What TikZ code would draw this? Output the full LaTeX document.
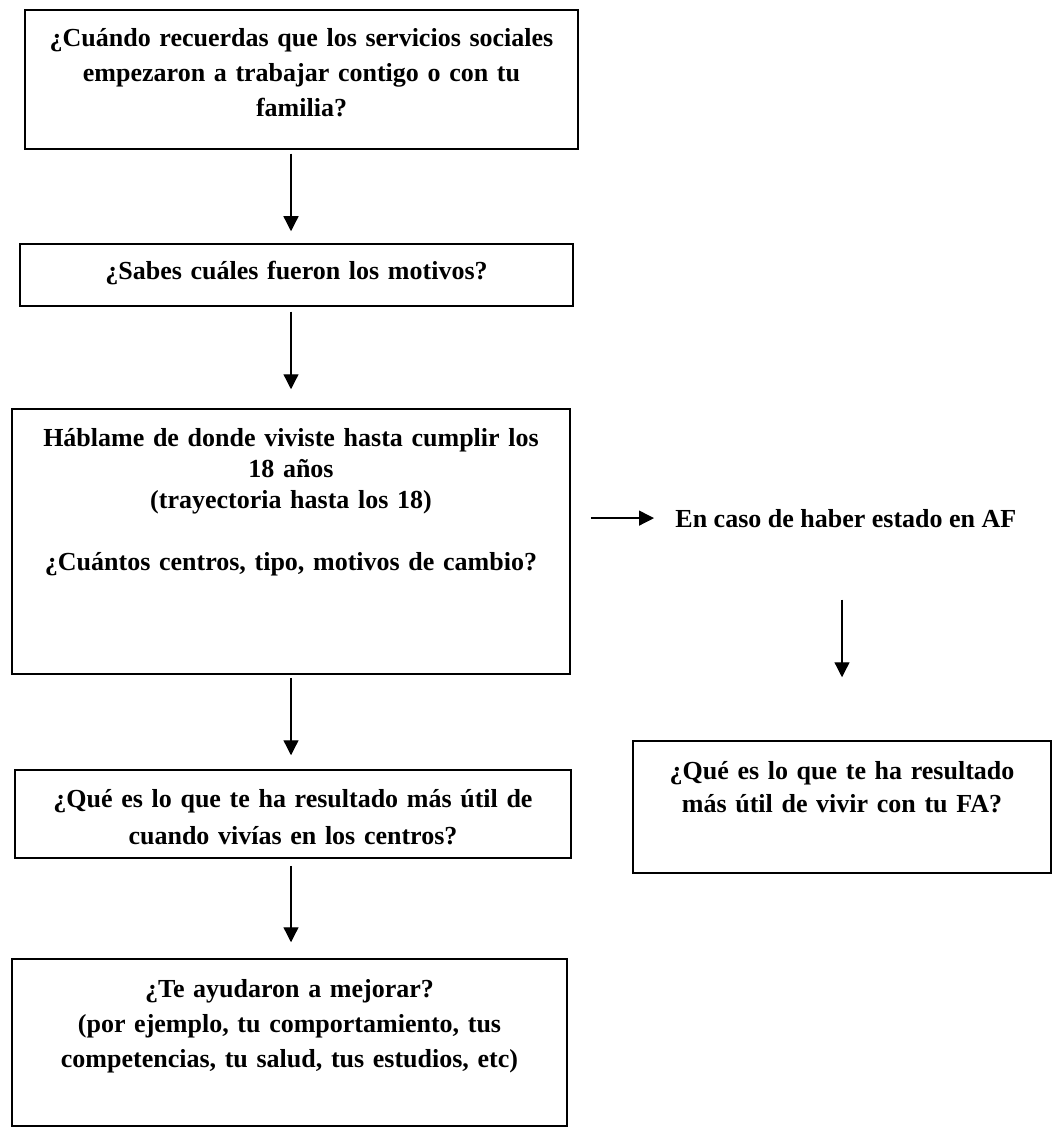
\documentclass[tikz,border=0pt]{standalone}
\usepackage{fontspec}
\setmainfont{Liberation Serif}
\usetikzlibrary{arrows.meta}

\begin{document}
\begin{tikzpicture}[x=0.5pt, y=-0.5pt,
    caja/.style={draw, line width=0.75pt, inner sep=0pt},
    texto/.style={font=\fontsize{13}{17.5}\selectfont\bfseries, align=center, inner sep=0pt, anchor=north},
    flecha/.style={-{Triangle[length=7.5pt, width=7.5pt]}, line width=0.65pt}]
  \useasboundingbox (0,0) rectangle (1060,1128);
  % Left column
  \node[caja, minimum width=276.5pt, minimum height=69.5pt] (inicio) at (301.5,79.5) {};
  \node[texto, text width=265pt] (inicio-t) at ([yshift=-9.5pt]inicio.north)
    {¿Cuándo recuerdas que los servicios sociales\\ empezaron a trabajar contigo o con tu\\ familia?};
  \node[caja, minimum width=276.5pt, minimum height=31pt] (motivos) at (296.5,275) {};
  \node[texto, text width=265pt] (motivos-t) at ([yshift=-9pt]motivos.north)
    {¿Sabes cuáles fueron los motivos?};
  \node[caja, minimum width=279pt, minimum height=132.5pt] (trayect) at (291,541.5) {};
  \node[texto, text width=268pt, font=\fontsize{13}{15.5}\selectfont\bfseries] (trayect-t) at ([yshift=-10pt]trayect.north)
    {Háblame de donde viviste hasta cumplir los\\ 18 años\\ (trayectoria hasta los 18)\\[15.5pt] ¿Cuántos centros, tipo, motivos de cambio?};
  \node[caja, minimum width=278pt, minimum height=44pt] (util) at (293,814) {};
  \node[texto, text width=268pt, font=\fontsize{13}{18.5}\selectfont\bfseries] (util-t) at ([yshift=-10pt]util.north)
    {¿Qué es lo que te ha resultado más útil de\\ cuando vivías en los centros?};
  \node[caja, minimum width=277.5pt, minimum height=83.5pt] (ayuda) at (289.5,1042.5) {};
  \node[texto, text width=268pt] (ayuda-t) at ([yshift=-10.5pt]ayuda.north)
    {¿Te ayudaron a mejorar?\\ (por ejemplo, tu comportamiento, tus\\ competencias, tu salud, tus estudios, etc)};
  % Right column
  \node[texto, anchor=base west] (af) at (675,527) {En caso de haber estado en AF};
  \node[caja, minimum width=209pt, minimum height=66pt] (utilfa) at (842,807) {};
  \node[texto, text width=200pt, font=\fontsize{13}{16.5}\selectfont\bfseries] (utilfa-t) at ([yshift=-10.5pt]utilfa.north)
    {¿Qué es lo que te ha resultado\\ más útil de vivir con tu FA?};
  % Arrows
  \draw[flecha, shorten <=2pt, shorten >=6pt] (inicio.south -| trayect.north) -- (motivos.north -| trayect.north);
  \draw[flecha, shorten <=2.5pt, shorten >=9.5pt] (motivos.south -| trayect.north) -- (trayect.north);
  \draw[flecha, shorten <=1.5pt, shorten >=7pt] (trayect.south) -- (util.north -| trayect.south);
  \draw[flecha, shorten <=3.5pt, shorten >=8pt] (util.south -| trayect.south) -- (ayuda.north -| trayect.south);
  \draw[flecha, shorten <=10pt, shorten >=10.5pt] (trayect.east |- af.west) -- (af.west);
  \draw[flecha, shorten <=36pt, shorten >=31.5pt] (af.south -| utilfa.north) -- (utilfa.north);
\end{tikzpicture}
\end{document}
